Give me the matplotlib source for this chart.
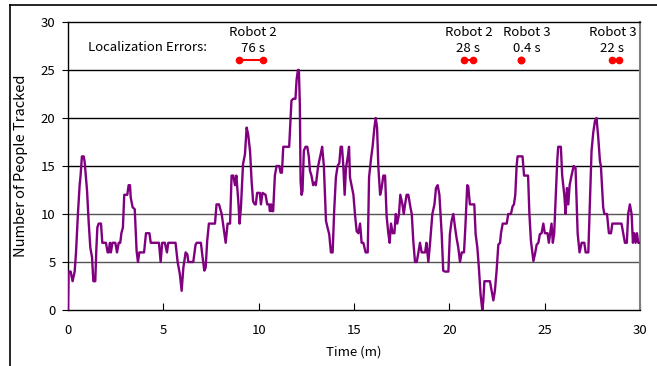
import numpy as np
import matplotlib
matplotlib.use('Agg')
import matplotlib.pyplot as plt
from matplotlib.lines import Line2D

plt.rcParams['font.family'] = ['Noto Sans CJK JP', 'DejaVu Sans']

# time (minutes) and number of people tracked
t = [0.0, 0.03, 0.14, 0.24, 0.35, 0.42, 0.52, 0.61, 0.66, 0.73, 0.82, 0.87, 1.0, 1.08, 1.17,
     1.26, 1.33, 1.43, 1.49, 1.54, 1.61, 1.73, 1.8, 1.92, 1.99, 2.08, 2.13, 2.2, 2.25, 2.33,
     2.48, 2.57, 2.66, 2.74, 2.8, 2.88, 2.95, 3.11, 3.18, 3.25, 3.29, 3.39, 3.5, 3.6, 3.67,
     3.74, 3.99, 4.09, 4.16, 4.27, 4.34, 4.67, 4.77, 4.86, 4.94, 5.08, 5.19, 5.26, 5.64, 5.75,
     5.87, 5.96, 6.05, 6.17, 6.26, 6.31, 6.57, 6.69, 6.75, 6.97, 7.04, 7.15, 7.22, 7.3, 7.39,
     7.71, 7.79, 7.92, 8.06, 8.2, 8.27, 8.37, 8.5, 8.58, 8.67, 8.76, 8.83, 8.93, 9.0, 9.07,
     9.18, 9.28, 9.37, 9.45, 9.55, 9.63, 9.71, 9.8, 9.85, 9.92, 10.06, 10.12, 10.2, 10.36,
     10.45, 10.55, 10.59, 10.65, 10.7, 10.76, 10.85, 10.94, 11.08, 11.15, 11.22, 11.29, 11.6,
     11.67, 11.72, 11.81, 11.93, 11.99, 12.06, 12.11, 12.16, 12.2, 12.25, 12.3, 12.37, 12.46,
     12.55, 12.63, 12.69, 12.77, 12.86, 12.95, 13.0, 13.12, 13.25, 13.33, 13.42, 13.53, 13.61,
     13.7, 13.79, 13.88, 13.96, 14.05, 14.14, 14.23, 14.3, 14.37, 14.44, 14.51, 14.58, 14.67,
     14.74, 14.79, 14.88, 14.97, 15.05, 15.14, 15.23, 15.32, 15.4, 15.49, 15.61, 15.72, 15.79,
     15.89, 15.98, 16.07, 16.14, 16.21, 16.28, 16.37, 16.45, 16.54, 16.63, 16.71, 16.8, 16.87,
     16.94, 17.03, 17.12, 17.19, 17.27, 17.36, 17.43, 17.54, 17.61, 17.68, 17.76, 17.85, 17.96,
     18.03, 18.11, 18.2, 18.29, 18.38, 18.46, 18.55, 18.73, 18.8, 18.9, 18.99, 19.11, 19.22,
     19.3, 19.39, 19.48, 19.6, 19.68, 19.77, 19.95, 20.03, 20.12, 20.21, 20.3, 20.38, 20.47,
     20.56, 20.65, 20.77, 20.84, 20.94, 20.99, 21.08, 21.31, 21.38, 21.47, 21.55, 21.64, 21.73,
     21.78, 21.84, 22.13, 22.22, 22.31, 22.39, 22.48, 22.57, 22.66, 22.71, 22.8, 23.01, 23.09,
     23.23, 23.32, 23.39, 23.46, 23.53, 23.58, 23.84, 23.92, 24.13, 24.2, 24.28, 24.41, 24.49,
     24.58, 24.67, 24.75, 24.84, 24.93, 25.01, 25.15, 25.22, 25.29, 25.36, 25.43, 25.5, 25.57,
     25.66, 25.71, 25.85, 25.92, 26.03, 26.1, 26.17, 26.24, 26.31, 26.41, 26.52, 26.62, 26.73,
     26.83, 26.94, 27.08, 27.15, 27.29, 27.37, 27.46, 27.55, 27.64, 27.72, 27.81, 27.9, 27.95,
     28.07, 28.13, 28.27, 28.37, 28.48, 28.55, 29.03, 29.12, 29.21, 29.31, 29.38, 29.47, 29.56,
     29.63, 29.7, 29.77, 29.84, 29.91, 29.97]
n = [0, 4, 4, 3, 4, 6, 10, 13, 14, 16, 16, 15.5, 12.4, 9.3, 6.5,
     5.5, 3, 3, 6.5, 8.6, 9, 9, 7, 7, 7, 6, 6, 7, 6, 7,
     7, 6, 7, 7, 8, 8.6, 12, 12, 13, 13, 11.7, 10.7, 10.5, 6.1, 5,
     6, 6, 8, 8, 8, 7, 7, 7, 5, 7, 7, 6, 7, 7, 5,
     3.7, 2, 4.4, 6, 5.8, 5, 5, 6.8, 7, 7, 5.8, 4.1, 4.4, 7.2, 9,
     9, 11, 11, 10, 8, 7, 9, 9, 14, 14, 13, 14, 11.4, 9, 10.7,
     15.2, 16.2, 19, 18.3, 16.5, 13.4, 11.3, 11, 11, 12.2, 12.2, 11, 12.2, 12,
     11, 11, 10.3, 11, 10.3, 10.3, 14, 15, 15, 14.3, 14.3, 17, 17,
     19.7, 21.8, 22, 22, 24, 25, 25, 21.4, 13.4, 12, 12.4, 16.6, 17,
     17, 16, 14.5, 14, 13, 13.3, 13, 15, 16.2, 17, 15, 9.3, 8.6,
     7.9, 6, 6, 10.3, 13.8, 15, 15.3, 17, 17, 15, 12, 14.8, 15.9,
     17, 13.8, 12.9, 12, 10, 8.2, 8, 9, 7, 7, 6, 6, 13.8,
     15.7, 17.1, 19, 20, 19, 14.8, 12, 12.7, 14, 14, 9.8, 8, 7,
     9, 8, 8, 10, 9, 10, 12, 11, 10, 11, 12, 12, 10.7,
     10, 7.2, 5, 5, 6, 7, 6, 6, 7, 5, 7, 10, 11,
     12.7, 13, 12, 7.9, 4.1, 4, 4, 7.9, 9.3, 10, 8.6, 7.5, 6.5,
     5, 6, 6, 8.6, 13, 12.9, 11, 11, 7.9, 6.5, 4.4, 1.6, 0,
     0.9, 3, 3, 2, 1, 2, 4.1, 6.8, 7, 8, 9, 9, 10,
     10, 10.8, 11, 12, 15, 16, 16, 14, 14, 10, 7.2, 5.1, 5.8,
     6.8, 7, 7.9, 8, 9, 8, 8, 7, 8, 9, 7, 8, 11.4,
     15.5, 17, 17, 14, 12, 10, 12.7, 11, 13, 14, 15, 14.8, 8,
     6, 7, 7, 6, 6, 11, 16.6, 18.5, 19.7, 20, 18, 15.5, 15,
     10.7, 10, 10, 8, 8, 9, 9, 8, 7, 7, 10, 11, 10,
     7, 8, 7, 8, 7, 7]

# localization error annotations
err_robot = ['Robot 2', 'Robot 2', 'Robot 3', 'Robot 3']
err_dur = ['76 s', '28 s', '0.4 s', '22 s']
err_label_x = [9.7, 21.0, 24.05, 28.55]
err_start = [8.95, 20.78, 23.76, 28.55]
err_end = [10.23, 21.22, 23.76, 28.88]

fig = plt.figure(figsize=(6.57, 3.66), dpi=100)
ax = fig.add_axes([0.1035, 0.153, 0.8706, 0.787])

for y in [15, 20, 25]:
    ax.axhline(y, color='black', lw=1.0, zorder=1)
for y in [5, 10]:
    ax.axhline(y, color='#555555', lw=1.0, zorder=1)

ax.plot(t, n, color='#800080', lw=1.7, zorder=3)

ax.text(1.05, 27.3, 'Localization Errors:', fontsize=9.5, va='center', ha='left')
for lx, rb, d, s, e in zip(err_label_x, err_robot, err_dur, err_start, err_end):
    ax.text(lx, 28.95, rb, fontsize=9.5, ha='center', va='center')
    ax.text(lx, 27.2, d, fontsize=9.5, ha='center', va='center')
    ax.plot([s, e], [26.0, 26.0], color='red', lw=1.5, marker='o', ms=4.5, zorder=4)

ax.set_xlim(0, 30)
ax.set_ylim(0, 30)
ax.set_xticks(range(0, 31, 5))
ax.set_yticks(range(0, 31, 5))
ax.tick_params(axis='x', direction='in', length=5, labelsize=9.5, pad=10)
ax.tick_params(axis='y', direction='out', length=4, labelsize=9.5, pad=5)
ax.set_xlabel('Time (m)', fontsize=9.5, labelpad=6)
ax.set_ylabel('Number of People Tracked', fontsize=10.5, labelpad=9)

for side in ['left', 'bottom', 'top']:
    ax.spines[side].set_color('black')
    ax.spines[side].set_linewidth(1.0)
ax.spines['right'].set_color('#808080')
ax.spines['right'].set_linewidth(1.5)

# outer chart-area border
fig.add_artist(Line2D([10 / 657, 10 / 657], [0, 1 - 5 / 366], color='black', lw=1.2))
fig.add_artist(Line2D([10 / 657, 1], [1 - 5 / 366, 1 - 5 / 366], color='black', lw=1.2))

fig.savefig('out.png', dpi=100)
